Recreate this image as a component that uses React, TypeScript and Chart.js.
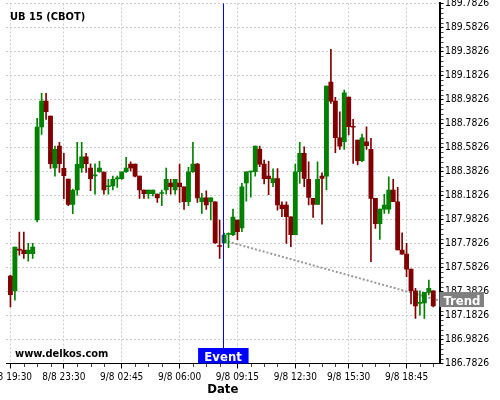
import React, { useEffect, useRef } from 'react';
import { Chart, registerables } from 'chart.js';

Chart.register(...registerables);

const title = 'UB 15 (CBOT)';
const watermark = 'www.delkos.com';
const eventLabel = 'Event';
const trendLabel = 'Trend';
const xTitle = 'Date';

const categories = [
  '8/8 19:30', '8/8 20:45', '8/8 21:00', '8/8 21:15', '8/8 21:30', '8/8 21:45', '8/8 22:00', '8/8 22:15',
  '8/8 22:30', '8/8 22:45', '8/8 23:00', '8/8 23:15', '8/8 23:30', '8/8 23:45', '9/8 00:00', '9/8 00:15',
  '9/8 00:30', '9/8 00:45', '9/8 01:00', '9/8 01:15', '9/8 01:30', '9/8 01:45', '9/8 02:00', '9/8 02:15',
  '9/8 02:30', '9/8 02:45', '9/8 03:00', '9/8 03:15', '9/8 03:30', '9/8 03:45', '9/8 04:00', '9/8 04:15',
  '9/8 04:30', '9/8 04:45', '9/8 05:00', '9/8 05:15', '9/8 05:30', '9/8 05:45', '9/8 06:00', '9/8 06:15',
  '9/8 06:30', '9/8 06:45', '9/8 07:00', '9/8 07:15', '9/8 07:30', '9/8 07:45', '9/8 08:00', '9/8 08:15',
  '9/8 08:30', '9/8 08:45', '9/8 09:00', '9/8 09:15', '9/8 09:30', '9/8 09:45', '9/8 10:00', '9/8 10:15',
  '9/8 10:30', '9/8 10:45', '9/8 11:00', '9/8 11:15', '9/8 11:30', '9/8 11:45', '9/8 12:00', '9/8 12:15',
  '9/8 12:30', '9/8 12:45', '9/8 13:00', '9/8 13:15', '9/8 13:30', '9/8 13:45', '9/8 14:00', '9/8 14:15',
  '9/8 14:30', '9/8 14:45', '9/8 15:00', '9/8 15:15', '9/8 15:30', '9/8 15:45', '9/8 16:00', '9/8 16:15',
  '9/8 16:30', '9/8 16:45', '9/8 17:00', '9/8 17:15', '9/8 17:30', '9/8 17:45', '9/8 18:00', '9/8 18:15',
  '9/8 18:30', '9/8 18:45', '9/8 19:00', '9/8 19:15', '9/8 19:30', '9/8 19:45', '9/8 20:00', '9/8 20:15',
];

const opens = [
  187.511, 187.388, 187.735, 187.728, 187.697, 187.697, 187.978, 188.753, 188.969, 188.844,
  188.413, 188.594, 188.408, 188.319, 188.108, 188.228, 188.413, 188.505, 188.411, 188.346,
  188.380, 188.378, 188.255, 188.261, 188.321, 188.322, 188.380, 188.444, 188.444, 188.344,
  188.228, 188.197, 188.197, 188.194, 188.199, 188.228, 188.286, 188.228, 188.286, 188.255,
  188.130, 188.380, 188.444, 188.130, 188.163, 188.130, 188.130, 187.765, 187.788, 187.857,
  187.855, 187.978, 187.913, 188.288, 188.378, 188.380, 188.569, 188.444, 188.344, 188.290,
  188.323, 188.103, 188.103, 188.005, 187.855, 188.380, 188.533, 188.317, 188.158, 188.108,
  188.344, 188.344, 189.128, 188.969, 188.663, 188.630, 189.003, 188.759, 188.644, 188.472,
  188.630, 188.567, 188.158, 187.947, 188.069, 188.069, 188.228, 188.130, 187.728, 187.694,
  187.569, 187.388, 187.284, 187.288, 187.375, 187.388,
];

const highs = [
  187.520, 187.753, 187.878, 187.878, 187.783, 187.783, 188.825, 189.033, 189.033, 188.844,
  188.594, 188.625, 188.533, 188.319, 188.236, 188.625, 188.625, 188.533, 188.447, 188.447,
  188.467, 188.378, 188.317, 188.344, 188.344, 188.380, 188.500, 188.463, 188.444, 188.344,
  188.228, 188.228, 188.228, 188.194, 188.228, 188.411, 188.317, 188.317, 188.444, 188.255,
  188.417, 188.625, 188.450, 188.200, 188.222, 188.163, 188.130, 187.978, 187.869, 187.872,
  188.069, 187.978, 188.283, 188.380, 188.386, 188.594, 188.594, 188.478, 188.467, 188.405,
  188.407, 188.130, 188.130, 188.005, 188.444, 188.625, 188.588, 188.463, 188.158, 188.463,
  188.372, 189.094, 189.400, 189.000, 188.880, 189.061, 189.003, 188.817, 188.644, 188.694,
  188.755, 188.658, 188.158, 188.069, 188.192, 188.338, 188.317, 188.250, 187.872, 187.783,
  187.569, 187.408, 187.388, 187.375, 187.478, 187.388,
];

const lows = [
  187.255, 187.311, 187.686, 187.658, 187.636, 187.658, 187.963, 188.692, 188.817, 188.408,
  188.344, 188.375, 188.155, 188.097, 188.030, 188.186, 188.375, 188.375, 188.222, 188.194,
  188.375, 188.194, 188.194, 188.228, 188.250, 188.317, 188.375, 188.388, 188.338, 188.158,
  188.158, 188.158, 188.178, 188.125, 188.097, 188.194, 188.194, 188.194, 188.125, 188.067,
  188.097, 188.375, 188.125, 188.033, 188.067, 187.978, 187.783, 187.658, 187.786, 187.747,
  187.847, 187.814, 187.880, 188.136, 188.169, 188.344, 188.423, 188.278, 188.190, 188.255,
  188.061, 188.005, 187.783, 187.755, 187.855, 188.283, 188.255, 188.103, 188.000, 188.108,
  187.944, 188.228, 188.950, 188.538, 188.567, 188.567, 188.686, 188.450, 188.436, 188.465,
  188.567, 187.630, 187.908, 187.817, 188.033, 188.033, 188.130, 187.728, 187.694, 187.505,
  187.278, 187.158, 187.186, 187.158, 187.353, 187.255,
];

const closes = [
  187.355, 187.753, 187.727, 187.697, 187.728, 187.753, 188.753, 188.969, 188.880, 188.447,
  188.567, 188.447, 188.347, 188.108, 188.225, 188.442, 188.505, 188.447, 188.322, 188.354,
  188.411, 188.228, 188.261, 188.317, 188.329, 188.380, 188.411, 188.413, 188.344, 188.228,
  188.197, 188.228, 188.228, 188.163, 188.207, 188.317, 188.255, 188.317, 188.255, 188.130,
  188.380, 188.444, 188.163, 188.163, 188.103, 188.163, 187.788, 187.757, 187.853, 187.865,
  188.003, 187.880, 188.255, 188.380, 188.386, 188.594, 188.444, 188.323, 188.323, 188.323,
  188.103, 188.073, 188.005, 187.855, 188.380, 188.533, 188.325, 188.167, 188.108, 188.317,
  188.325, 189.094, 188.969, 188.663, 188.594, 189.038, 188.755, 188.751, 188.472, 188.663,
  188.597, 188.158, 187.947, 188.069, 188.103, 188.228, 188.130, 187.728, 187.694, 187.569,
  187.388, 187.263, 187.292, 187.375, 187.408, 187.263,
];

const xTickIndex = [0, 12, 25, 38, 51, 64, 76, 89];
const yTickLabels = [
  '186.7826', '186.9826', '187.1826', '187.3826', '187.5826', '187.7826', '187.9826', '188.1826',
  '188.3826', '188.5826', '188.7826', '188.9826', '189.1826', '189.3826', '189.5826', '189.7826',
];
const eventIndex = 48;
const trendX = [48, 96.4];
const trendY = [187.807, 187.307];

const GREEN = '#008000';
const RED = '#800000';
const FONT = "'DejaVu Sans Condensed', 'DejaVu Sans', sans-serif";

export default function App() {
  const ref = useRef<HTMLCanvasElement | null>(null);

  useEffect(() => {
    document.body.style.margin = '0';
    const canvas = ref.current;
    if (!canvas) return;
    const colors = opens.map((o, i) => (closes[i] > o ? GREEN : RED));

    const overlay = {
      id: 'overlay',
      afterDatasetsDraw(chart: any) {
        const { ctx, chartArea, scales } = chart;
        const ex = Math.round(scales.x.getPixelForValue(eventIndex)) - 0.5;
        ctx.save();
        ctx.strokeStyle = '#0000ff';
        ctx.lineWidth = 1;
        ctx.beginPath();
        ctx.moveTo(ex, chartArea.top);
        ctx.lineTo(ex, chartArea.bottom);
        ctx.stroke();
        ctx.restore();
      },
      afterDraw(chart: any) {
        const { ctx, chartArea, scales } = chart;
        const xs = scales.x;
        const ys = scales.y;
        ctx.save();
        ctx.strokeStyle = '#444';
        ctx.lineWidth = 1;
        ctx.beginPath();
        for (let k = 0; k < xTickIndex.length; k++) {
          const a = xTickIndex[k];
          const b = k + 1 < xTickIndex.length ? xTickIndex[k + 1] : categories.length + 1;
          for (let m = a + 3; m < b - 1; m += 3) {
            const px = Math.round(xs.getPixelForValue(m)) + 0.5;
            ctx.moveTo(px, chartArea.bottom + 0.5);
            ctx.lineTo(px, chartArea.bottom + 3.5);
          }
        }
        for (let k = 0; k < yTickLabels.length - 1; k++) {
          const base = parseFloat(yTickLabels[k]);
          for (let j = 1; j < 5; j++) {
            const py = Math.round(ys.getPixelForValue(base + j * 0.04)) + 0.5;
            ctx.moveTo(chartArea.right + 1.5, py);
            ctx.lineTo(chartArea.right + 4, py);
          }
        }
        ctx.stroke();

        ctx.fillStyle = '#000';
        ctx.textBaseline = 'alphabetic';
        ctx.textAlign = 'left';
        ctx.font = `bold 11px ${FONT}`;
        ctx.fillText(title, 10, 19.5);
        ctx.font = `bold 11px ${FONT}`;
        ctx.fillText(watermark, 15, 357.3);

        const ex = xs.getPixelForValue(eventIndex);
        ctx.fillStyle = '#0000ff';
        ctx.fillRect(ex - 26, chartArea.bottom - 15.5, 50.5, 15.5);
        ctx.fillStyle = '#fff';
        ctx.font = `bold 13px ${FONT}`;
        ctx.textAlign = 'center';
        ctx.fillText(eventLabel, ex - 1, chartArea.bottom - 2.7);

        const ty = ys.getPixelForValue(trendY[1]);
        ctx.fillStyle = '#808080';
        ctx.fillRect(chartArea.right, ty - 8.5, 44.5, 15);
        ctx.fillStyle = '#fff';
        ctx.textAlign = 'left';
        ctx.fillText(trendLabel, chartArea.right + 4, ty + 4);
        ctx.restore();
      },
    };

    const chart = new Chart(canvas, {
      type: 'bar',
      data: {
        datasets: [
          {
            type: 'line',
            data: trendX.map((x, i) => ({ x, y: trendY[i] })),
            borderColor: '#9a9a9a',
            borderWidth: 2,
            borderDash: [2, 2],
            pointRadius: 0,
            fill: false,
            order: 10,
          } as any,
          {
            data: lows.map((l, i) => ({ x: i, y: [l, highs[i]] })),
            backgroundColor: colors,
            barThickness: 1,
            grouped: false,
            borderWidth: 0,
            order: 2,
          } as any,
          {
            data: opens.map((o, i) => ({ x: i, y: [o, closes[i]] })),
            backgroundColor: colors,
            barThickness: 4.2,
            minBarLength: 1,
            grouped: false,
            borderWidth: 0,
            order: 1,
          } as any,
        ],
      },
      options: {
        animation: false,
        responsive: false,
        devicePixelRatio: 1,
        layout: { padding: { left: 6, top: 3.4, right: 0, bottom: 0 } },
        plugins: { legend: { display: false }, tooltip: { enabled: false } },
        scales: {
          x: {
            type: 'linear',
            min: -1,
            max: 96.4,
            offset: false,
            grid: { offset: false, color: '#cccccc', tickLength: 5, tickColor: '#000', lineWidth: 1 },
            border: { display: true, color: '#000', width: 1, dash: [2, 2] },
            ticks: {
              autoSkip: false,
              maxRotation: 0,
              padding: 3,
              color: '#000',
              font: { family: FONT, size: 10 },
              callback: (v: any) => categories[v] ?? '',
            },
            afterBuildTicks: (s: any) => {
              s.ticks = xTickIndex.map((v) => ({ value: v }));
            },
            afterFit: (s: any) => {
              s.height = 36.5;
              s.paddingLeft = 0;
              s.paddingRight = 0;
            },
            title: {
              display: true,
              text: xTitle,
              color: '#000',
              font: { family: FONT, size: 13, weight: 'bold' },
              padding: { top: 0, bottom: 3 },
            },
          },
          y: {
            position: 'right',
            min: 186.7826,
            max: 189.7826,
            grid: { color: '#cccccc', tickLength: 4, tickColor: '#000' },
            border: { display: true, color: '#000', width: 2, dash: [2, 2] },
            ticks: {
              padding: 1.5,
              color: '#000',
              font: { family: FONT, size: 10.3 },
              callback: (_v: any, i: number) => yTickLabels[i],
            },
            afterBuildTicks: (s: any) => {
              s.ticks = yTickLabels.map((t) => ({ value: parseFloat(t) }));
            },
            afterFit: (s: any) => {
              s.width = 60.5;
              s.paddingTop = 0;
              s.paddingBottom = 0;
            },
          },
        },
      } as any,
      plugins: [overlay],
    });
    return () => chart.destroy();
  }, []);

  return (
    <div style={{ position: 'absolute', left: 0, top: 0, width: 500, height: 400, background: '#fff' }}>
      <canvas ref={ref} width={500} height={400} style={{ display: 'block', width: 500, height: 400 }} />
    </div>
  );
}
